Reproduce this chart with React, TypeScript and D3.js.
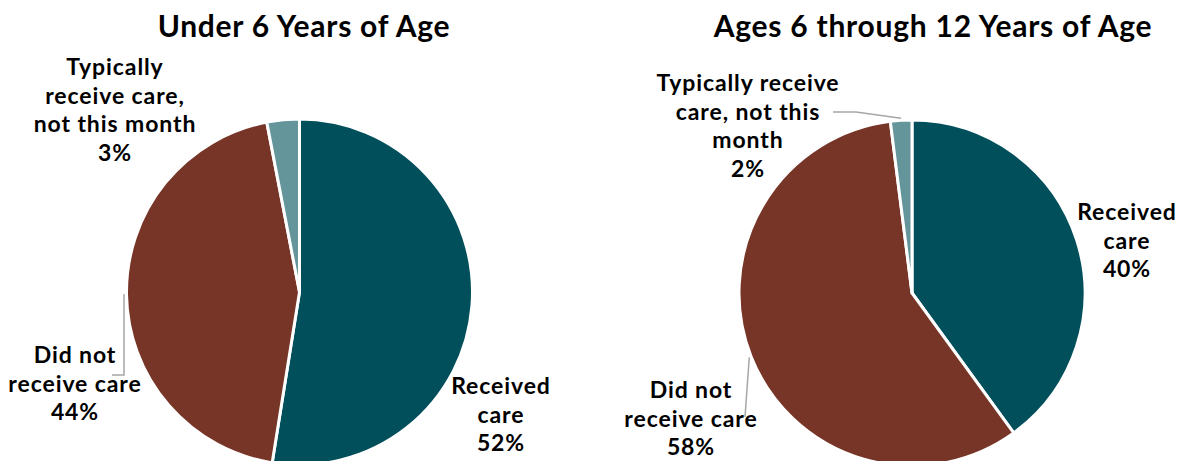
import React from "react";
import * as d3 from "d3";

const categories = ["Received care", "Did not receive care", "Typically receive care, not this month"];
const under6Values = [52, 44, 3];
const ages6to12Values = [40, 58, 2];
const under6Pcts = ["52%", "44%", "3%"];
const ages6to12Pcts = ["40%", "58%", "2%"];
const titles = ["Under 6 Years of Age", "Ages 6 through 12 Years of Age"];
const colors = ["#004F5B", "#773527", "#64959B"];

const under6Lines = [["Received", "care"], ["Did not", "receive care"], ["Typically", "receive care,", "not this month"]];
const ages6to12Lines = [["Received", "care"], ["Did not", "receive care"], ["Typically receive", "care, not this", "month"]];

const W = 1181;
const H = 461;
const FONT = "Lato, 'Open Sans', sans-serif";

type LabelLayout = { x: number; y: number; leader?: (p: [number, number]) => [number, number][] };

const charts = [
  {
    title: titles[0],
    titleX: 304,
    values: under6Values,
    pcts: under6Pcts,
    lines: under6Lines,
    cx: 299.5,
    cy: 292,
    r: 173,
    labels: [
      { x: 501, y: 394 },
      {
        x: 75,
        y: 363,
        leader: (p: [number, number]) => [p, [124, p[1]], [124, 375], [112, 375]],
      },
      { x: 115, y: 75 },
    ] as LabelLayout[],
  },
  {
    title: titles[1],
    titleX: 933,
    values: ages6to12Values,
    pcts: ages6to12Pcts,
    lines: ages6to12Lines,
    cx: 912,
    cy: 293,
    r: 173,
    labels: [
      { x: 1127, y: 220 },
      {
        x: 691,
        y: 398,
        leader: (p: [number, number]) => [p, [745, 417]],
      },
      {
        x: 748,
        y: 91,
        leader: (p: [number, number]) => [p, [856, 112], [833, 112]],
      },
    ] as LabelLayout[],
  },
];

function Pie({ chart }: { chart: (typeof charts)[number] }) {
  const pie = d3.pie<number>().sort(null).value((d) => d);
  const arcs = pie(chart.values);
  const arc = d3.arc<d3.PieArcDatum<number>>().innerRadius(0).outerRadius(chart.r);
  const lineGen = d3.line();
  const lineH = 28.5;
  return (
    <g>
      <text
        x={chart.titleX}
        y={37}
        textAnchor="middle"
        fontFamily={FONT}
        fontWeight={700}
        fontSize={30}
        letterSpacing={0.75}
        fill="#000"
      >
        {chart.title}
      </text>
      <g transform={`translate(${chart.cx},${chart.cy})`}>
        {arcs.map((a, i) => (
          <path key={i} d={arc(a) || ""} fill={colors[i]} stroke="#fff" strokeWidth={3} strokeLinejoin="round" />
        ))}
      </g>
      {arcs.map((a, i) => {
        const lay = chart.labels[i];
        const mid = (a.startAngle + a.endAngle) / 2;
        const rr = chart.r + 2;
        const p: [number, number] = [chart.cx + rr * Math.sin(mid), chart.cy - rr * Math.cos(mid)];
        const lines = [...chart.lines[i], chart.pcts[i]];
        return (
          <g key={i}>
            {lay.leader && (
              <path d={lineGen(lay.leader(p)) || ""} fill="none" stroke="#A6A6A6" strokeWidth={1.5} />
            )}
            <text
              textAnchor="middle"
              fontFamily={FONT}
              fontWeight={700}
              fontSize={23}
              letterSpacing={0.9}
              fill="#000"
              aria-label={`${categories[i]} ${chart.pcts[i]}`}
            >
              {lines.map((l, j) => (
                <tspan key={j} x={lay.x} y={lay.y + j * lineH}>
                  {l}
                </tspan>
              ))}
            </text>
          </g>
        );
      })}
    </g>
  );
}

export default function App() {
  return (
    <div style={{ position: "absolute", left: 0, top: 0, width: W, height: H, background: "#fff" }}>
      <svg width={W} height={H} viewBox={`0 0 ${W} ${H}`} style={{ display: "block" }}>
        <rect x={0} y={0} width={W} height={H} fill="#fff" />
        {charts.map((c, i) => (
          <Pie key={i} chart={c} />
        ))}
      </svg>
    </div>
  );
}
